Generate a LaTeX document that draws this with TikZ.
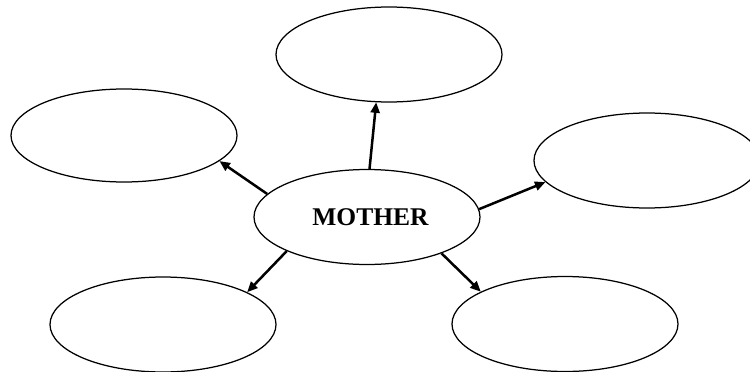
\documentclass[tikz,border=0pt]{standalone}
\usepackage{fontspec}
\setmainfont{Liberation Serif}
\usetikzlibrary{shapes.geometric,arrows.meta}
\tikzset{
  bubble/.style={ellipse,draw,line width=1.25pt,minimum width=226pt,minimum height=95pt,inner sep=0pt},
  link/.style={line width=2.5pt,-{Triangle[length=10.5pt,width=9pt]}}
}
\begin{document}
\begin{tikzpicture}[x=1pt,y=-1pt]
\useasboundingbox (0,0) rectangle (750,372);
\clip (0,0) rectangle (750,372);
\node[bubble] (c) at (367,217) {\kern7pt\raisebox{-2.5pt}{\fontsize{25.5}{30}\selectfont\bfseries MOTHER}};
\node[bubble] (t) at (389,54.5) {};
\node[bubble,minimum height=93pt] (l) at (124,135.5) {};
\node[bubble] (r) at (647,160.5) {};
\node[bubble] (bl) at (163,324.5) {};
\node[bubble] (br) at (565,324) {};
\draw[link] (c.87) -- (t.255);
\draw[link] (c.167.5) -- (l.345.7);
\draw[link] (c.4) -- (r.192.7);
\draw[link] (c.203.7) -- (bl.21.6);
\draw[link] (c.334.7) -- (br.159.2);
\end{tikzpicture}
\end{document}
